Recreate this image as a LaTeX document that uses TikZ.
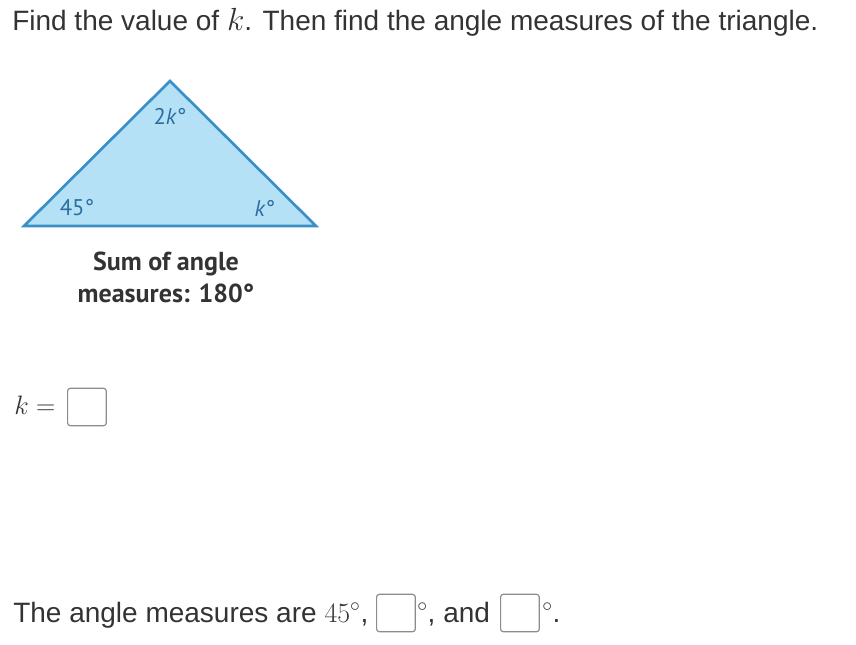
\documentclass[tikz,border=0pt]{standalone}
\usepackage{fix-cm}
\usepackage{fontspec}
\setmainfont{Liberation Sans}
\newfontfamily\labelfont{PT Sans}
\usetikzlibrary{positioning}
\definecolor{trifill}{HTML}{B5E1F7}
\definecolor{triline}{HTML}{3A8FC9}
\definecolor{trilabel}{HTML}{2B6E9E}
\definecolor{boxline}{HTML}{8C8C8C}
\tikzset{
  txt/.style={inner sep=0pt, anchor=base west, font=\fontsize{21}{24}\selectfont, text=black!80},
  ang/.style={inner sep=0pt, text=trilabel, font=\labelfont\fontsize{17}{20}\selectfont},
  sumtext/.style={inner sep=0pt, text=black!80, align=center, font=\labelfont\bfseries\fontsize{19.5}{24}\selectfont},
  ansbox/.style={draw=boxline, rounded corners=2pt, line width=0.9pt, minimum width=29pt, minimum height=28pt, inner sep=0pt}
}
\begin{document}
\begin{tikzpicture}[x=0.75pt, y=-0.75pt]
\useasboundingbox (0,0) rectangle (856,644);
% question
\node[txt] (q) at (12,30) {Find the value of {\fontsize{24}{24}\selectfont$k$}. Then find the angle measures of the triangle.};
% triangle
\coordinate (A) at (24,226);
\coordinate (B) at (170,81);
\coordinate (C) at (316,226);
\draw[triline, fill=trifill, line width=2pt, line join=miter] (A) -- (B) -- (C) -- cycle;
\node[ang] (a2k) at (170,116) {2\textit{k}°};
\node[ang] (a45) at (77,208) {45°};
\node[ang] (ak) at (265,208) {\textit{k}°};
\node[sumtext] (sum) at (166,277) {Sum of angle\\measures: 180°};
% answer for k
\node[txt, font=\fontsize{20}{24}\selectfont] (keq) at (14,414) {$k=$};
\node[ansbox, anchor=west] (kbox) at (67,407) {};
% answer for angles
\node[txt] (ang1) at (13,622) {The angle measures are $45^\circ$,};
\node[ansbox, anchor=west] (box1) at (376,613) {};
\node[txt] (deg1) at (417,622) {$^\circ$, and};
\node[ansbox, anchor=west] (box2) at (500,613) {};
\node[txt] (deg2) at (542,622) {$^\circ$.};
\end{tikzpicture}
\end{document}
